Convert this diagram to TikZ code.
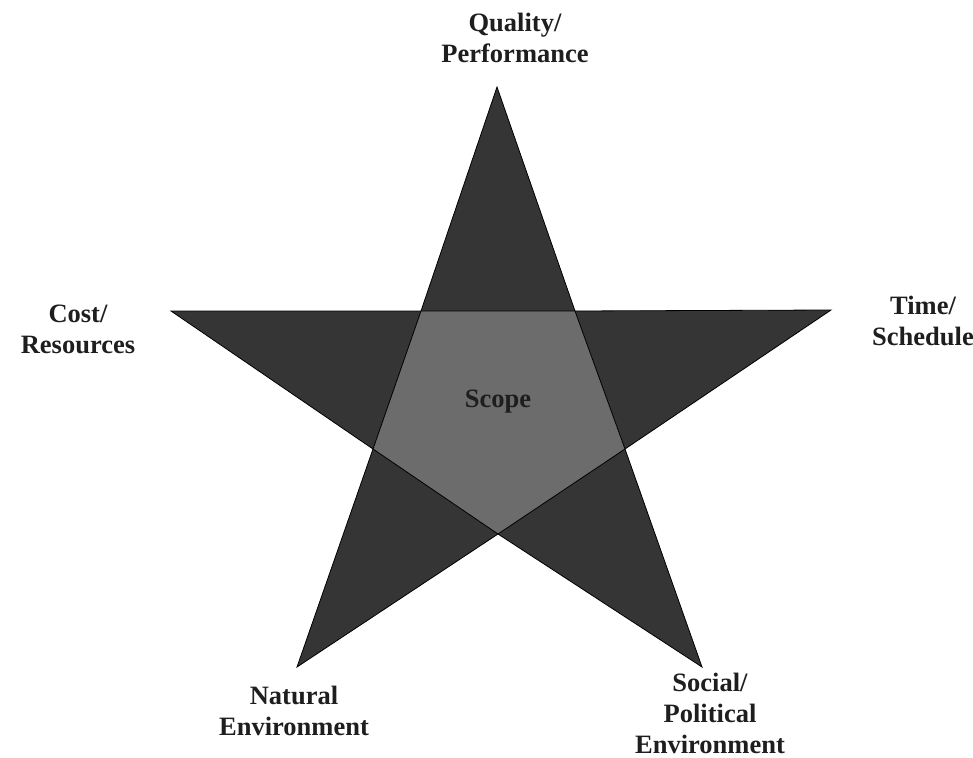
\documentclass[tikz,border=0pt]{standalone}
\usepackage{fontspec}
\setmainfont{Liberation Serif}
\definecolor{stardark}{HTML}{353535}
\definecolor{pentgray}{HTML}{6C6C6C}
\definecolor{txt}{HTML}{1E1E1E}
\begin{document}
\begin{tikzpicture}[x=1pt,y=-1pt,
  lbl/.style={font=\fontsize{26.5}{31}\selectfont\bfseries, text=txt, align=center, inner sep=0pt, anchor=base},
  edge/.style={draw=black, line width=0.8pt, line join=miter}]
\useasboundingbox (0,0) rectangle (973,757);
% outer points
\coordinate (T) at (497,87);
\coordinate (R) at (831,310);
\coordinate (BR) at (702,667);
\coordinate (BL) at (297,667);
\coordinate (L) at (171,311);
% inner pentagon
\coordinate (ITR) at (575,311);
\coordinate (IR) at (625,449);
\coordinate (IB) at (498,534);
\coordinate (IL) at (373,449);
\coordinate (ITL) at (421,311);
\fill[stardark] (T) -- (ITR) -- (R) -- (IR) -- (BR) -- (IB) -- (BL) -- (IL) -- (L) -- (ITL) -- cycle;
\draw[edge] (T) -- (ITR) -- (R) -- (IR) -- (BR) -- (IB) -- (BL) -- (IL) -- (L) -- (ITL) -- cycle;
\filldraw[fill=pentgray, edge] (ITL) -- (ITR) -- (IR) -- (IB) -- (IL) -- cycle;
\node[lbl] (scope) at (498,407) {Scope};
\node[lbl] (qp) at (515,63) {Quality/\\Performance};
\node[lbl] (cr) at (78,353) {Cost/\\Resources};
\node[lbl] (ts) at (923,345) {Time/\\Schedule};
\node[lbl] (ne) at (294,735) {Natural\\Environment};
\node[lbl] (sp) at (710,753) {Social/\\Political\\Environment};
\end{tikzpicture}
\end{document}
